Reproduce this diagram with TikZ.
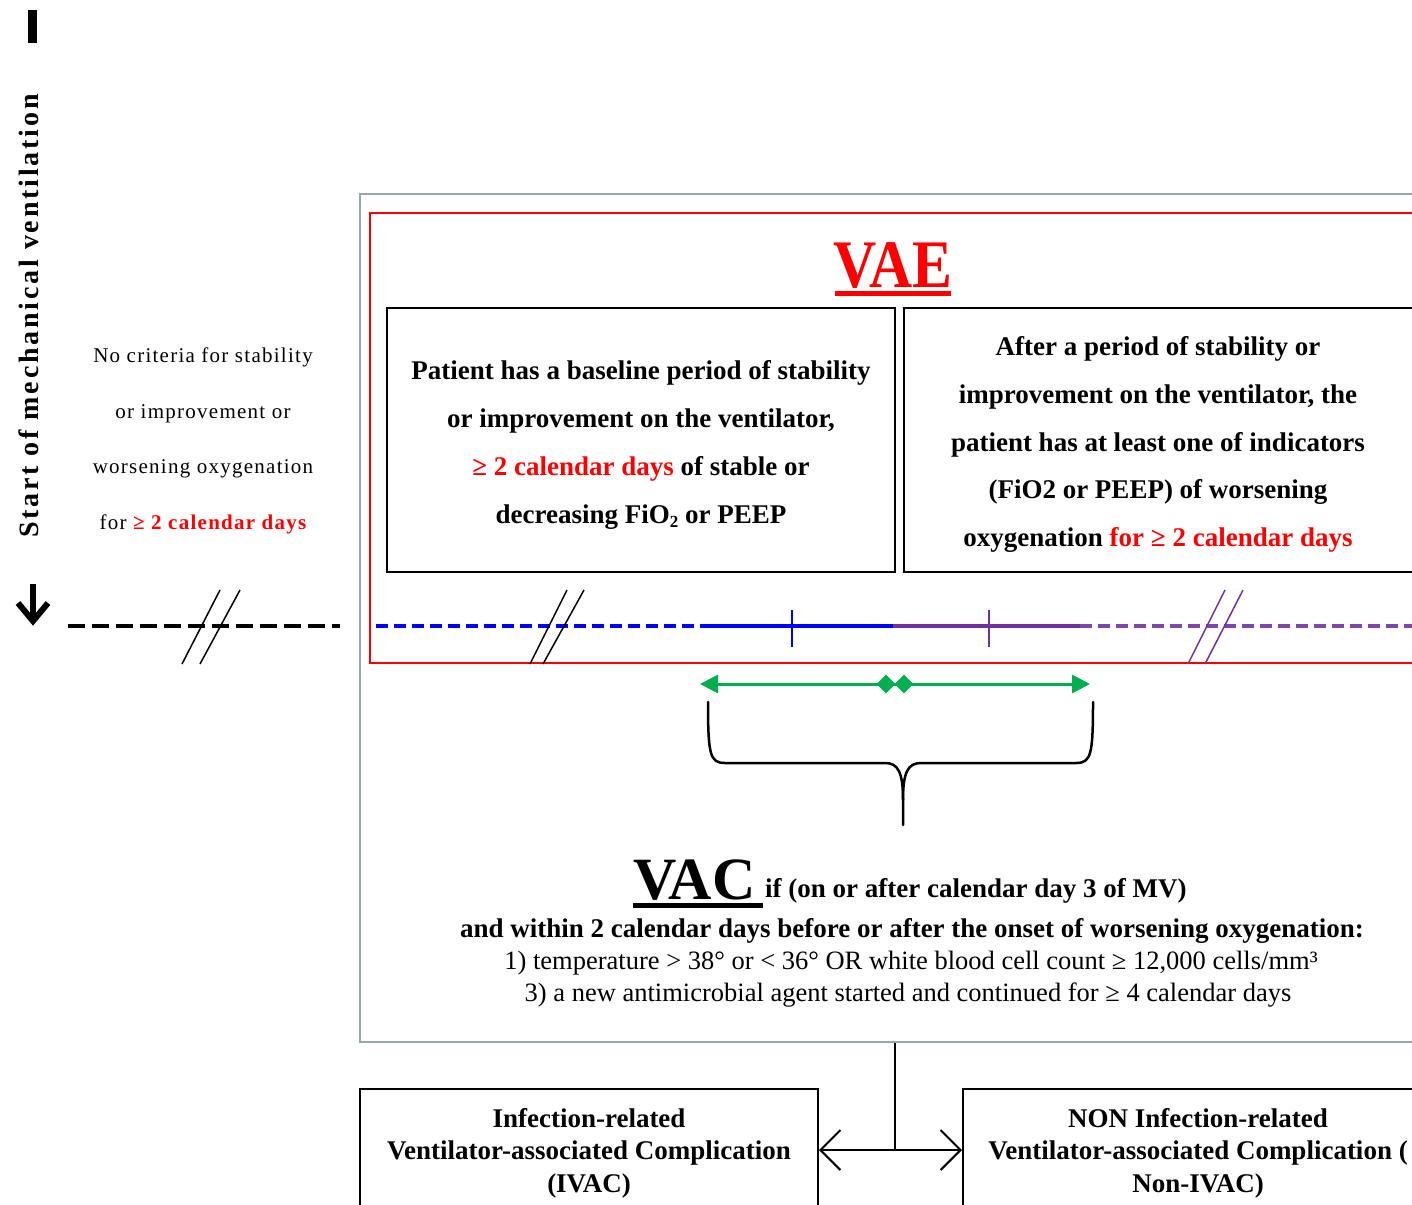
\documentclass[tikz,border=0pt]{standalone}
\usepackage{fontspec}
\setmainfont{Liberation Serif}
\newfontfamily\condA[FakeStretch=0.88]{Liberation Serif}
\newfontfamily\lsp[LetterSpace=6]{Liberation Serif}
\newfontfamily\vsp[LetterSpace=10]{Liberation Serif}
\usetikzlibrary{arrows.meta,shapes.geometric}
\definecolor{vred}{RGB}{255,0,0}
\definecolor{vblue}{RGB}{0,0,255}
\definecolor{vpurple}{RGB}{112,48,160}
\definecolor{vgreen}{RGB}{0,176,80}
\definecolor{vgray}{RGB}{150,166,170}
\newcommand{\fsz}[2]{\fontsize{#1}{#2}\selectfont}
\newcommand{\lowtwo}{\raisebox{-0.3ex}{\fontsize{17}{17}\selectfont 2}}
\begin{document}
\begin{tikzpicture}[x=1pt,y=-1pt,
  blackbox/.style={draw=black,line width=2pt,inner sep=0pt},
  tline/.style={line width=4.5pt},
  slash/.style={line width=1.5pt},
  tick/.style={line width=2.5pt},
  txt/.style={inner sep=0pt,align=center}]
\useasboundingbox (0,0) rectangle (1412,1204);
\clip (0,0) rectangle (1412,1204);
\fill[white] (0,0) rectangle (1412,1204);

% left side
\fill[black] (28,10) rectangle (37,43);
\node[txt,rotate=90,anchor=base,font={\vsp\bfseries\fsz{28}{28}}] (smv) at (38,316) {Start of mechanical ventilation};
\draw[line width=6pt] (33,584) -- (33,618);
\draw[line width=6pt,line join=miter] (18,603) -- (33,621) -- (48,603);
\node[txt,font={\lsp\fsz{21}{55.7}}] (nocrit) at (203,441) {No criteria for stability\\or improvement or\\worsening oxygenation\\for \textcolor{vred}{\bfseries ≥ 2 calendar days}};
\draw[tline,line width=4pt,dash pattern=on 17pt off 7pt] (68,626) -- (340,626);
\draw[slash] (182,664) -- (220,590);
\draw[slash] (200,664) -- (240,590);

% outer boxes
\node[draw=vgray,line width=2.5pt,minimum width=1070pt,minimum height=848pt,inner sep=0] (vacbox) at (895,618) {};
\node[draw=vred,line width=2pt,minimum width=1060pt,minimum height=450pt,inner sep=0] (vaebox) at (900,438) {};

% VAE title
\node[txt,anchor=base,text=vred,font={\condA\bfseries\fsz{68}{68}}] (vae) at (893,287) {VAE};
\draw[vred,line width=5pt] (835,293) -- (951,293);

% two boxes
\node[blackbox,minimum width=508pt,minimum height=264pt] (b1) at (641,440) {};
\node[txt,font={\bfseries\fsz{27}{48}}] (b1t) at (641,445) {Patient has a baseline period of stability\\or improvement on the ventilator,\\\textcolor{vred}{≥ 2 calendar days} of stable or\\decreasing FiO\lowtwo{} or PEEP};
\node[blackbox,minimum width=514pt,minimum height=264pt] (b2) at (1161,440) {};
\node[txt,font={\bfseries\fsz{27}{47.7}}] (b2t) at (1158,444.5) {After a period of stability or\\improvement on the ventilator, the\\patient has at least one of indicators\\(FiO2 or PEEP) of worsening\\oxygenation \textcolor{vred}{for ≥ 2 calendar days}};

% timeline
\coordinate (t0) at (376,626);
\coordinate (t1) at (706,626);
\coordinate (t2) at (893,626);
\coordinate (t3) at (1080,626);
\coordinate (t4) at (1412,626);
\draw[tline,vblue,dash pattern=on 12pt off 6pt] (t0) -- (t1);
\draw[tline,vblue] (t1) -- (t2);
\draw[tline,vpurple] (t2) -- (t3);
\draw[tline,vpurple!90,dash pattern=on 12pt off 6pt] (t3) -- (t4);
\draw[tick,vblue] (792,610) -- (792,647);
\draw[tick,vpurple] (989,610) -- (989,647);
\draw[slash] (530,664) -- (567,590);
\draw[slash] (543,664) -- (584,590);
\draw[slash,vpurple] (1188,664) -- (1225,590);
\draw[slash,vpurple] (1205,664) -- (1243,590);

% green arrow
\draw[vgreen,line width=3pt,{Triangle[length=18pt,width=18pt]}-{Triangle[length=18pt,width=18pt]}] (700,684) -- (1090,684);
\node[diamond,fill=vgreen,minimum size=19pt,inner sep=0] (d1) at (886,684) {};
\node[diamond,fill=vgreen,minimum size=19pt,inner sep=0] (d2) at (904,684) {};

% brace
\draw[line width=2.5pt,line cap=round]
  (708,702) .. controls (708,755) and (710,763) .. (725,763) -- (885,763)
  .. controls (898,763) and (903,772) .. (903,800) -- (903,825);
\draw[line width=2.5pt,line cap=round]
  (1093,702) .. controls (1093,755) and (1091,763) .. (1076,763) -- (921,763)
  .. controls (908,763) and (903,772) .. (903,800);

% VAC text
\node[txt,anchor=base west,font={\bfseries\fsz{60}{60}}] (vac) at (633,899) {VAC};
\draw[line width=5pt] (633,905) -- (763,905);
\node[txt,anchor=base west,font={\bfseries\fsz{27}{27}}] (vacif) at (765,897) {if (on or after calendar day 3 of MV)};
\node[txt,anchor=base,font={\bfseries\fsz{27}{27}}] (vac2) at (912,937) {and within 2 calendar days before or after the onset of worsening oxygenation:};
\node[txt,anchor=base,font={\fsz{26.5}{26.5}}] (vac3) at (911,969) {1) temperature > 38° or < 36° OR white blood cell count ≥ 12,000 cells/mm³};
\node[txt,anchor=base,font={\fsz{26.5}{26.5}}] (vac4) at (908,1001) {3) a new antimicrobial agent started and continued for ≥ 4 calendar days};

% bottom
\node[blackbox,minimum width=458pt,minimum height=122pt] (ivac) at (589,1150) {};
\node[txt,font={\bfseries\fsz{27}{32.5}}] (ivact) at (589,1153) {Infection-related\\Ventilator-associated Complication\\(IVAC)};
\node[blackbox,minimum width=470pt,minimum height=122pt] (nivac) at (1198,1150) {};
\node[txt,font={\bfseries\fsz{27}{32.5}}] (nivact) at (1198,1153) {NON Infection-related\\Ventilator-associated Complication (\\Non-IVAC)};
\coordinate (split) at (895,1150);
\draw[line width=2pt] (vacbox.south) -- (split);
\draw[line width=2pt,-{Straight Barb[length=20pt,width=40pt]}] (split) -- (ivac.east);
\draw[line width=2pt,-{Straight Barb[length=20pt,width=40pt]}] (split) -- (nivac.west);
\end{tikzpicture}
\end{document}
